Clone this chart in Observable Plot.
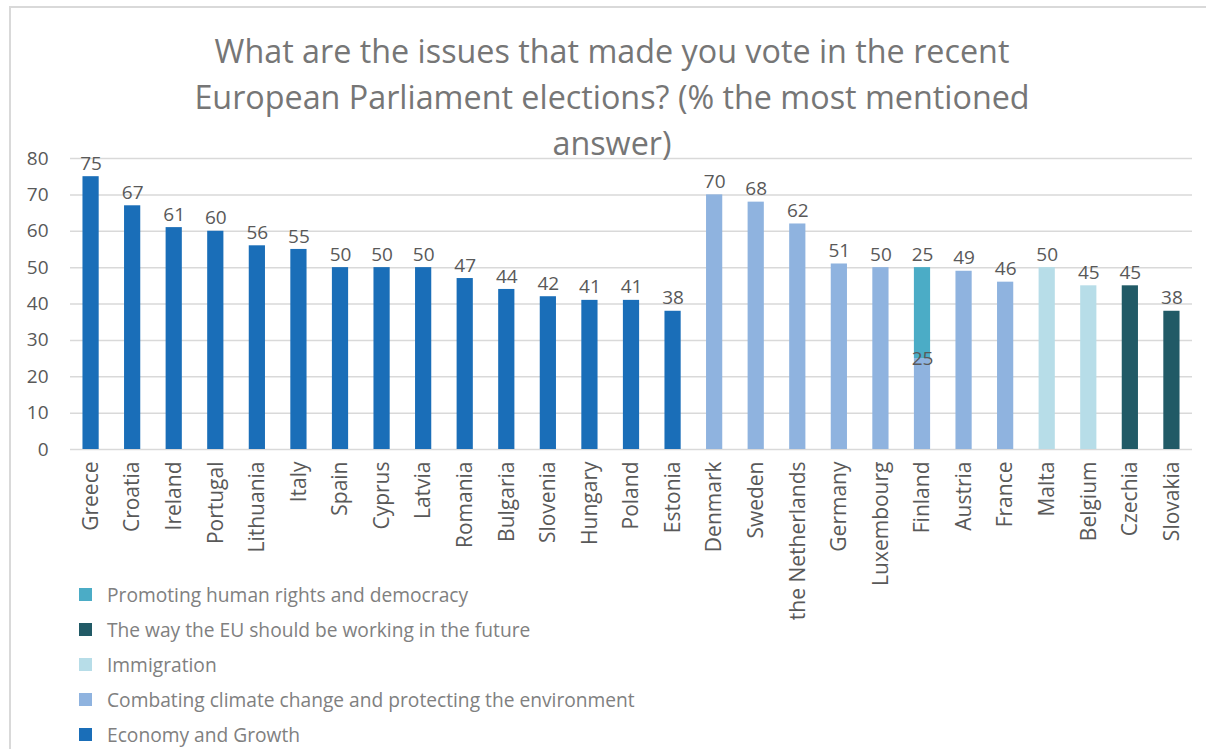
<!DOCTYPE html>
<html><head><meta charset="utf-8">
<script src="https://cdn.jsdelivr.net/npm/d3@7"></script>
<script src="https://cdn.jsdelivr.net/npm/@observablehq/plot@0.6"></script>
<style>
body{margin:0;background:#fff;overflow:hidden;font-family:"Open Sans",sans-serif;}
#wrap{position:relative;width:1206px;height:749px;overflow:hidden;}
#frame{position:absolute;left:9px;top:6px;width:1300px;height:800px;border:2px solid #d9d9d9;box-sizing:border-box;}
#title{position:absolute;left:0;top:27px;width:1224px;text-align:center;font-size:32.3px;line-height:46px;color:#767676;}
#chart{position:absolute;left:0;top:0;}
#legend{position:absolute;left:79px;top:577px;}
.item{display:flex;align-items:center;height:35px;font-size:19.2px;color:#808080;white-space:nowrap}
.sw{width:13px;height:13px;margin-right:15px;flex:none}
</style>
</head><body>
<div id="wrap">
<div id="frame"></div>
<div id="chart"></div>
<div id="title">What are the issues that made you vote in the recent<br>European Parliament elections? (% the most mentioned<br>answer)</div>
<div id="legend"></div>
</div>
<script>
const countries = ["Greece","Croatia","Ireland","Portugal","Lithuania","Italy","Spain","Cyprus","Latvia","Romania","Bulgaria","Slovenia","Hungary","Poland","Estonia","Denmark","Sweden","the Netherlands","Germany","Luxembourg","Finland","Austria","France","Malta","Belgium","Czechia","Slovakia"];
const series = ["Economy and Growth","Combating climate change and protecting the environment","Immigration","The way the EU should be working in the future","Promoting human rights and democracy"];
const economy     = [75,67,61,60,56,55,50,50,50,47,44,42,41,41,38,null,null,null,null,null,null,null,null,null,null,null,null];
const climate     = [null,null,null,null,null,null,null,null,null,null,null,null,null,null,null,70,68,62,51,50,25,49,46,null,null,null,null];
const immigration = [null,null,null,null,null,null,null,null,null,null,null,null,null,null,null,null,null,null,null,null,null,null,null,50,45,null,null];
const wayEU       = [null,null,null,null,null,null,null,null,null,null,null,null,null,null,null,null,null,null,null,null,null,null,null,null,null,45,38];
const humanRights = [null,null,null,null,null,null,null,null,null,null,null,null,null,null,null,null,null,null,null,null,25,null,null,null,null,null,null];
const yTicks = [0,10,20,30,40,50,60,70,80];
const colors = ["#1A6EB8","#8FB3DF","#B7DDE8","#215A66","#4BACC6"];
const legendOrder = [4,3,2,1,0];

const seriesValues = [economy, climate, immigration, wayEU, humanRights];
const rows = [];
seriesValues.forEach((vals, s) => vals.forEach((v, i) => {
  if (v != null) rows.push({country: countries[i], series: series[s], value: v});
}));
const topRow = new Map();
rows.forEach(r => topRow.set(r.country, r));
const isTop = r => topRow.get(r.country) === r;

const chart = Plot.plot({
  width: 1206, height: 640,
  marginTop: 158, marginBottom: 191, marginLeft: 70, marginRight: 14,
  x: {domain: countries, paddingInner: 0.61, paddingOuter: 0.3, round: false, label: null},
  y: {domain: [0, 80], label: null},
  color: {domain: series, range: colors},
  style: {fontFamily: "'Open Sans', sans-serif", fontSize: "18px", color: "#595959", background: "transparent", overflow: "visible"},
  marks: [
    Plot.ruleY(yTicks, {stroke: "#d9d9d9", strokeWidth: 1.5}),
    Plot.axisY({ticks: yTicks, tickSize: 0, tickPadding: 22, fontSize: 19, fill: "#595959", label: null}),
    Plot.axisX({tickRotate: -90, tickSize: 0, tickPadding: 12, fontSize: 21, fill: "#595959", label: null}),
    Plot.barY(rows, {x: "country", y: "value", fill: "series"}),
    Plot.text(rows, Plot.stackY2({x: "country", y: "value", z: "series", text: d => isTop(d) ? String(d.value) : null, dy: -13, fontSize: 19, fill: "#595959"})),
    Plot.text(rows, Plot.stackY2({x: "country", y: "value", z: "series", text: d => isTop(d) ? null : String(d.value), dy: 0, fontSize: 19, fill: "#595959"}))
  ]
});
document.getElementById("chart").appendChild(chart);

const legend = document.getElementById("legend");
legendOrder.forEach(i => {
  const item = document.createElement("div");
  item.className = "item";
  const sw = document.createElement("span");
  sw.className = "sw";
  sw.style.background = colors[i];
  const t = document.createElement("span");
  t.textContent = series[i];
  item.appendChild(sw); item.appendChild(t);
  legend.appendChild(item);
});
</script>
</body></html>
